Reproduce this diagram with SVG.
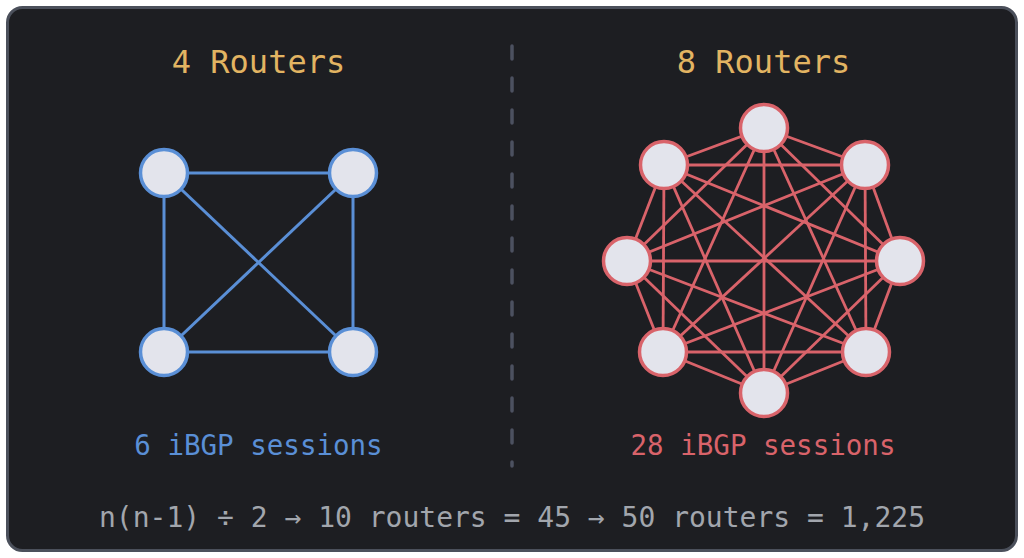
<svg xmlns="http://www.w3.org/2000/svg" width="1024" height="558" viewBox="0 0 1024 558">
<style>
.title{font-family:"DejaVu Sans Mono","Liberation Mono",monospace;font-size:32px;fill:#e2b462;text-anchor:middle}
.count{font-family:"DejaVu Sans Mono","Liberation Mono",monospace;font-size:27.5px;text-anchor:middle}
.formula{font-family:"DejaVu Sans Mono","Liberation Mono",monospace;font-size:28px;fill:#a2a6ad;text-anchor:middle}
.nb{fill:#e3e4ec;stroke:#5a8fd6;stroke-width:3.5}
.nr{fill:#e3e4ec;stroke:#d9636a;stroke-width:3.5}
.eb line{stroke:#5a8fd6;stroke-width:3}
.er line{stroke:#d9636a;stroke-width:2.8}
</style>
<rect x="0" y="0" width="1024" height="558" fill="#ffffff"/>
<rect id="frame" x="7.5" y="7.5" width="1009" height="543" rx="15" fill="#1d1e22" stroke="#4b505b" stroke-width="3"/>
<line id="divider" x1="512" y1="46" x2="512" y2="466" stroke="#4c5160" stroke-width="3.5" stroke-linecap="round" stroke-dasharray="13 19"/>
<text id="title-left" class="title" x="258.5" y="73">4 Routers</text>
<text id="title-right" class="title" x="763.5" y="73">8 Routers</text>
<g id="connectors">
<g class="eb">
<line x1="164" y1="173" x2="353" y2="173"/>
<line x1="164" y1="352" x2="353" y2="352"/>
<line x1="164" y1="173" x2="164" y2="352"/>
<line x1="353" y1="173" x2="353" y2="352"/>
<line x1="164" y1="173" x2="353" y2="352"/>
<line x1="353" y1="173" x2="164" y2="352"/>
</g>
<g class="er">
<line x1="764" y1="128" x2="865" y2="165"/>
<line x1="764" y1="128" x2="900" y2="261"/>
<line x1="764" y1="128" x2="866" y2="352"/>
<line x1="764" y1="128" x2="764" y2="393"/>
<line x1="764" y1="128" x2="663" y2="352"/>
<line x1="764" y1="128" x2="627" y2="261"/>
<line x1="764" y1="128" x2="664" y2="165"/>
<line x1="865" y1="165" x2="900" y2="261"/>
<line x1="865" y1="165" x2="866" y2="352"/>
<line x1="865" y1="165" x2="764" y2="393"/>
<line x1="865" y1="165" x2="663" y2="352"/>
<line x1="865" y1="165" x2="627" y2="261"/>
<line x1="865" y1="165" x2="664" y2="165"/>
<line x1="900" y1="261" x2="866" y2="352"/>
<line x1="900" y1="261" x2="764" y2="393"/>
<line x1="900" y1="261" x2="663" y2="352"/>
<line x1="900" y1="261" x2="627" y2="261"/>
<line x1="900" y1="261" x2="664" y2="165"/>
<line x1="866" y1="352" x2="764" y2="393"/>
<line x1="866" y1="352" x2="663" y2="352"/>
<line x1="866" y1="352" x2="627" y2="261"/>
<line x1="866" y1="352" x2="664" y2="165"/>
<line x1="764" y1="393" x2="663" y2="352"/>
<line x1="764" y1="393" x2="627" y2="261"/>
<line x1="764" y1="393" x2="664" y2="165"/>
<line x1="663" y1="352" x2="627" y2="261"/>
<line x1="663" y1="352" x2="664" y2="165"/>
<line x1="627" y1="261" x2="664" y2="165"/>
</g>
</g>
<g id="l1"><circle class="nb" cx="164" cy="173" r="23.5"/></g>
<g id="l2"><circle class="nb" cx="353" cy="173" r="23.5"/></g>
<g id="l3"><circle class="nb" cx="164" cy="352" r="23.5"/></g>
<g id="l4"><circle class="nb" cx="353" cy="352" r="23.5"/></g>
<g id="r1"><circle class="nr" cx="764" cy="128" r="23.5"/></g>
<g id="r2"><circle class="nr" cx="865" cy="165" r="23.5"/></g>
<g id="r3"><circle class="nr" cx="900" cy="261" r="23.5"/></g>
<g id="r4"><circle class="nr" cx="866" cy="352" r="23.5"/></g>
<g id="r5"><circle class="nr" cx="764" cy="393" r="23.5"/></g>
<g id="r6"><circle class="nr" cx="663" cy="352" r="23.5"/></g>
<g id="r7"><circle class="nr" cx="627" cy="261" r="23.5"/></g>
<g id="r8"><circle class="nr" cx="664" cy="165" r="23.5"/></g>
<text id="count-left" class="count" x="258.5" y="455" fill="#5a8fd6">6 iBGP sessions</text>
<text id="count-right" class="count" x="763" y="455" fill="#d9636a">28 iBGP sessions</text>
<text id="formula" class="formula" x="512" y="527">n(n-1) ÷ 2 → 10 routers = 45 → 50 routers = 1,225</text>
</svg>
